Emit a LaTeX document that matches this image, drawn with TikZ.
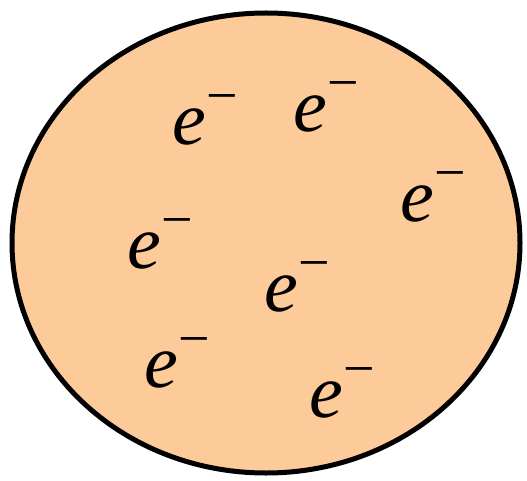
\documentclass[tikz,border=0pt]{standalone}
\usepackage{fontspec}
\setmainfont{Liberation Serif}
\usetikzlibrary{shapes.geometric}
\definecolor{peach}{RGB}{253,203,153}
\newcommand{\elec}{{\fontsize{76}{76}\selectfont\itshape e}\kern1pt\raisebox{30pt}{\fontsize{56}{56}\selectfont −}}
\tikzset{electron/.style={anchor=base west,inner sep=0pt,outer sep=0pt}}
\begin{document}
\begin{tikzpicture}[x=1pt,y=-1pt]
\useasboundingbox (0,0) rectangle (527,481);
\node[draw=black,line width=5pt,fill=peach,ellipse,minimum width=508pt,minimum height=460pt,inner sep=0pt] (cell) at (266,243) {};
\node[electron] (e1) at (172,145) {\elec};
\node[electron] (e2) at (293,132) {\elec};
\node[electron] (e3) at (400,222) {\elec};
\node[electron] (e4) at (127,268) {\elec};
\node[electron] (e5) at (264,311) {\elec};
\node[electron] (e6) at (144,387) {\elec};
\node[electron] (e7) at (309,417) {\elec};
\end{tikzpicture}
\end{document}
